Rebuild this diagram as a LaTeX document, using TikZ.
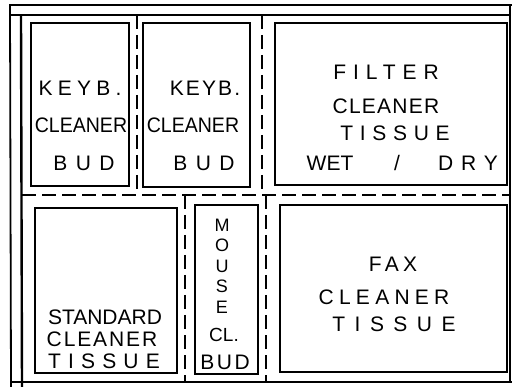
\documentclass[tikz,border=0pt]{standalone}
\usepackage{fontspec}
\setmainfont{Liberation Sans}
\newfontfamily\handfont{Liberation Sans}
\usepackage{tikz}
\usetikzlibrary{positioning}

\begin{document}
\begin{tikzpicture}[
    x=1pt, y=-1pt,
    frameline/.style={line width=1.8pt},
    cell/.style={draw, line width=1.4pt, inner sep=0pt},
    divider/.style={line width=1.4pt, dash pattern=on 14pt off 6pt},
    hand/.style={font=\handfont\fontsize{21}{23}\selectfont, inner sep=0pt},
    spaced/.style={font=\handfont\fontsize{21}{23}\selectfont\addfontfeature{LetterSpace=#1}, inner sep=0pt}
]
\useasboundingbox (0,0) rectangle (514,387);
\draw[frameline] (9,5) -- (512,5);
\draw[frameline] (9,15) -- (510,15);
\draw[frameline] (10,5) -- (11,387);
\draw[frameline, line width=2.4pt] (21,15) -- (22,387);
\draw[frameline] (510,5) -- (510,383);
\draw[frameline] (11,382) -- (512,382);
\draw[divider] (137,15) -- (137,195);
\draw[divider] (262,15) -- (262,195);
\draw[divider] (22,195) -- (510,195);
\draw[divider] (185,195) -- (185,382);
\draw[divider] (266,195) -- (266,382);
\node[cell, minimum width=98pt, minimum height=163pt] (keybA) at (80,104.5) {};
\node[cell, minimum width=107pt, minimum height=164pt] (keybB) at (196.5,105) {};
\node[cell, minimum width=232pt, minimum height=162pt] (filter) at (391,104) {};
\node[cell, minimum width=142pt, minimum height=165pt] (standard) at (106,290.5) {};
\node[cell, minimum width=63pt, minimum height=169pt] (mouse) at (226.5,289.5) {};
\node[cell, minimum width=227pt, minimum height=167pt] (fax) at (393.5,288.5) {};
\node[spaced=25] (keybAa) at (80,88) {KEYB.};
\node[hand, xscale=0.93, transform shape] (keybAb) at (81,125) {CLEANER};
\node[spaced=40] (keybAc) at (84,163) {BUD};
\node[spaced=10] (keybBa) at (205,88) {KEYB.};
\node[hand, xscale=0.93, transform shape] (keybBb) at (193,125) {CLEANER};
\node[spaced=40] (keybBc) at (204,163) {BUD};
\node[spaced=33] (filterA) at (386,72) {FILTER};
\node[spaced=6] (filterB) at (386,106) {CLEANER};
\node[spaced=32] (filterC) at (395,133) {TISSUE};
\node[hand] (filterD) at (330,163) {WET};
\node[hand] (filterE) at (397,163) {/};
\node[spaced=38] (filterF) at (468,163) {DRY};
\node[hand] (standardA) at (105,317) {STANDARD};
\node[spaced=9] (standardB) at (102,339) {CLEANER};
\node[spaced=34] (standardC) at (104,361) {TISSUE};
\node[hand, align=center, font=\handfont\fontsize{18}{20.5}\selectfont] (mouseA) at (222,266) {M\\O\\U\\S\\E};
\node[hand, font=\handfont\fontsize{19}{21}\selectfont] (mouseB) at (224,335) {CL.};
\node[spaced=12] (mouseC) at (225,362) {BUD};
\node[spaced=21] (faxA) at (393,264) {FAX};
\node[spaced=25] (faxB) at (384,297) {CLEANER};
\node[spaced=45] (faxC) at (394,324) {TISSUE};
\end{tikzpicture}
\end{document}
